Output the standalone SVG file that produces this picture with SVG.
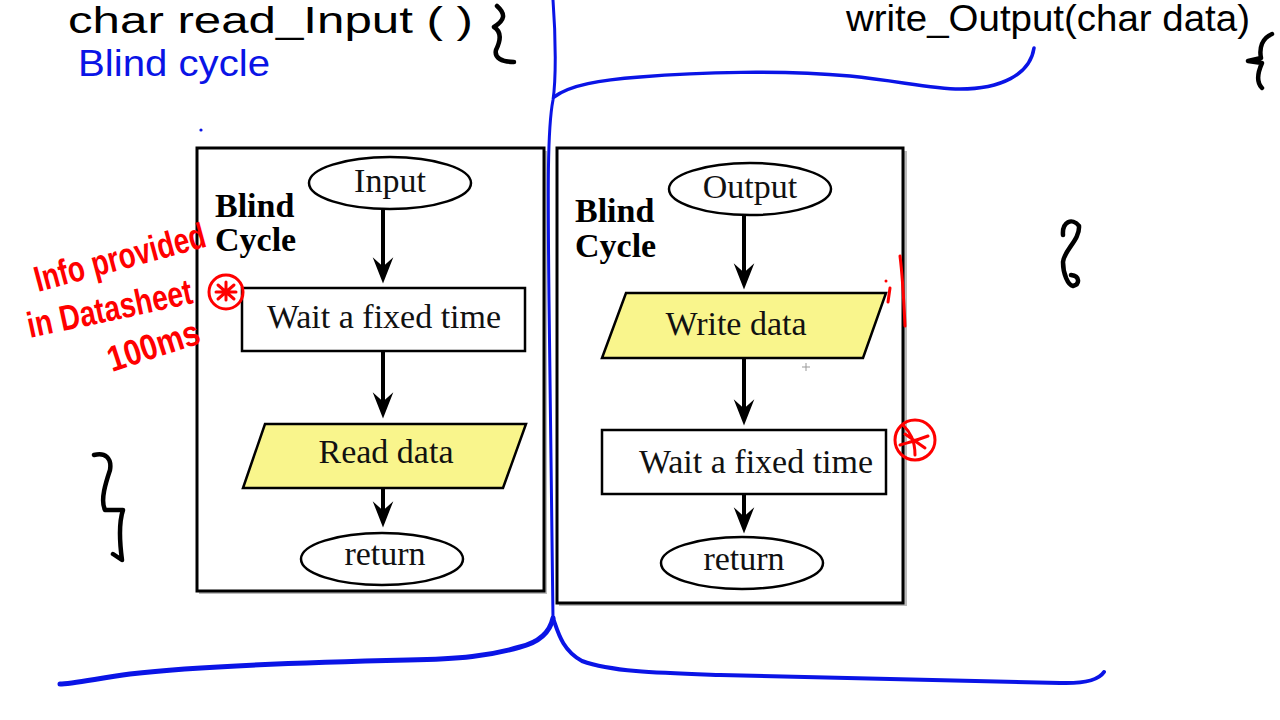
<svg xmlns="http://www.w3.org/2000/svg" width="1280" height="720" viewBox="0 0 1280 720">
<defs>
<marker id="ah" markerUnits="userSpaceOnUse" markerWidth="30" markerHeight="24" refX="0" refY="0" viewBox="-20 -12 32 24" orient="auto" overflow="visible">
<path d="M10,0 L-18,-11 L-8,0 L-18,11 Z" fill="#000"/>
</marker>
</defs>
<style>
.frame{fill:#fff;stroke:#000;stroke-width:3}
.shadow{fill:#bbb}
.node{fill:#fff;stroke:#000;stroke-width:2.5}
.io{fill:#f9f58c;stroke:#000;stroke-width:2.5}
.lbl{font-family:"Liberation Serif","Times New Roman",serif;font-size:34px;fill:#111;text-anchor:middle}
.title{font-family:"Liberation Serif","Times New Roman",serif;font-size:34px;font-weight:bold;fill:#000}
.edge{stroke:#000;stroke-width:4;fill:none}
.blue{stroke:#0a14e6;fill:none;stroke-linecap:round;stroke-linejoin:round}
.ink{stroke:#000;stroke-width:4.5;fill:none;stroke-linecap:round;stroke-linejoin:round}
.red{stroke:#f00;fill:none;stroke-width:3;stroke-linecap:round;stroke-linejoin:round}
.hand{font-family:"Liberation Sans",Arial,sans-serif;font-size:36px}
</style>
<rect width="1280" height="720" fill="#fff"/>

<g id="frame-left">
<rect class="shadow" x="199" y="151" width="348" height="443"/>
<rect class="frame" x="197" y="148" width="347" height="443"/>
<text class="title" x="215" y="217">Blind</text>
<text class="title" x="215" y="251">Cycle</text>
</g>
<g id="frame-right">
<rect class="shadow" x="559" y="151" width="348" height="455"/>
<rect class="frame" x="557" y="148" width="346" height="455"/>
<text class="title" x="575" y="222">Blind</text>
<text class="title" x="575" y="257">Cycle</text>
</g>

<g id="connectors">
<line class="edge" x1="383" y1="210" x2="383" y2="274" marker-end="url(#ah)"/>
<line class="edge" x1="383" y1="351" x2="383" y2="409" marker-end="url(#ah)"/>
<line class="edge" x1="383" y1="488" x2="383" y2="518" marker-end="url(#ah)"/>
<line class="edge" x1="744" y1="215" x2="744" y2="280" marker-end="url(#ah)"/>
<line class="edge" x1="744" y1="358" x2="744" y2="416" marker-end="url(#ah)"/>
<line class="edge" x1="744" y1="494" x2="744" y2="524" marker-end="url(#ah)"/>
</g>

<g id="input">
<ellipse class="node" cx="390" cy="183" rx="81" ry="26"/>
<text class="lbl" x="390" y="192">Input</text>
</g>
<g id="wait-left">
<rect class="node" x="242" y="288" width="283" height="63"/>
<text class="lbl" x="384" y="328">Wait a fixed time</text>
</g>
<g id="read-data">
<polygon class="io" points="265,424 526,424 503,488 243,488"/>
<text class="lbl" x="386" y="463">Read data</text>
</g>
<g id="return-left">
<ellipse class="node" cx="382" cy="559" rx="81" ry="26"/>
<text class="lbl" x="385" y="565">return</text>
</g>

<g id="output">
<ellipse class="node" cx="750" cy="189" rx="81" ry="26"/>
<text class="lbl" x="750" y="198">Output</text>
</g>
<g id="write-data">
<polygon class="io" points="626,293 886,293 863,358 602,358"/>
<text class="lbl" x="736" y="335">Write data</text>
</g>
<g id="wait-right">
<rect class="node" x="602" y="430" width="284" height="64"/>
<text class="lbl" x="756" y="473">Wait a fixed time</text>
</g>
<g id="return-right">
<ellipse class="node" cx="742" cy="563" rx="81" ry="26"/>
<text class="lbl" x="744" y="570">return</text>
</g>
<g id="cursor">
<path d="M802,367 H810 M806,363 V371" stroke="#999" stroke-width="1"/>
</g>

<g id="annotations-blue">
<path class="blue" stroke-width="3" d="M553,0 C556,40 556,80 553,100 C547,130 548,200 549,300 C550,450 553,560 553,618"/>
<path class="blue" stroke-width="3.5" d="M554,97 C570,85 600,80 640,77 C700,72 780,70 850,76 C900,81 930,89 960,89 C1000,89 1030,75 1034,48"/>
<path class="blue" stroke-width="5" d="M553,618 C550,632 540,642 520,647 C490,656 460,659 408,660 C320,662 200,666 130,674 C95,679 70,684 60,684"/>
<path class="blue" stroke-width="4" d="M553,618 C558,632 562,650 582,661 C612,672 660,673 720,675 C850,678 960,680 1060,683 C1090,684 1100,678 1104,672"/>
<text class="hand" x="78" y="76" fill="#0a14e6" textLength="192" lengthAdjust="spacingAndGlyphs">Blind cycle</text>
<circle cx="201" cy="130" r="1.6" fill="#0a14e6"/>
</g>

<g id="annotations-black">
<text class="hand" x="68" y="33" fill="#000" font-size="38" textLength="405" lengthAdjust="spacingAndGlyphs">char read_Input ( )</text>
<path class="ink" d="M497,6 C506,14 505,20 494,27 C502,32 501,40 496,50 C494,58 502,62 514,62"/>
<text class="hand" x="846" y="31" fill="#000" font-size="29" textLength="404" lengthAdjust="spacingAndGlyphs">write_Output(char data)</text>
<path class="ink" d="M1272,34 C1262,38 1259,48 1261,58 L1248,61 L1262,63 C1258,72 1256,82 1262,88"/>
<path class="ink" d="M1063,235 C1062,222 1072,217 1079,226 C1080,240 1064,250 1063,262 C1063,274 1068,285 1073,286 C1080,284 1080,276 1071,275"/>
<path class="ink" d="M94,455 C105,452 112,458 110,470 C106,482 100,500 105,510 L123,510 C118,525 120,545 122,560 L113,554"/>
</g>

<g id="annotations-red">
<text class="hand" transform="translate(38,292) rotate(-15)" fill="#f00" font-size="27" font-weight="bold" textLength="176" lengthAdjust="spacingAndGlyphs">Info provided</text>
<text class="hand" transform="translate(30,338) rotate(-12)" fill="#f00" font-size="27" font-weight="bold" textLength="168" lengthAdjust="spacingAndGlyphs">in Datasheet</text>
<text class="hand" transform="translate(112,372) rotate(-18)" fill="#f00" font-size="27" font-weight="bold" textLength="95" lengthAdjust="spacingAndGlyphs">100ms</text>
<circle class="red" cx="226" cy="292" r="17"/>
<path class="red" stroke-width="4" d="M218,285 L234,299 M234,285 L218,299 M226,282 V300 M216,292 H236"/>
<path class="red" d="M900,256 C903,280 904,305 905,326"/>
<circle cx="886" cy="281" r="1.5" fill="#f00"/>
<path class="red" stroke-width="2" d="M890,288 L888,302"/>
<circle class="red" cx="915" cy="440" r="20"/>
<path class="red" d="M903,425 C910,432 915,440 915,455 M900,445 C910,442 918,440 928,436 M905,434 L925,448"/>
</g>
</svg>
